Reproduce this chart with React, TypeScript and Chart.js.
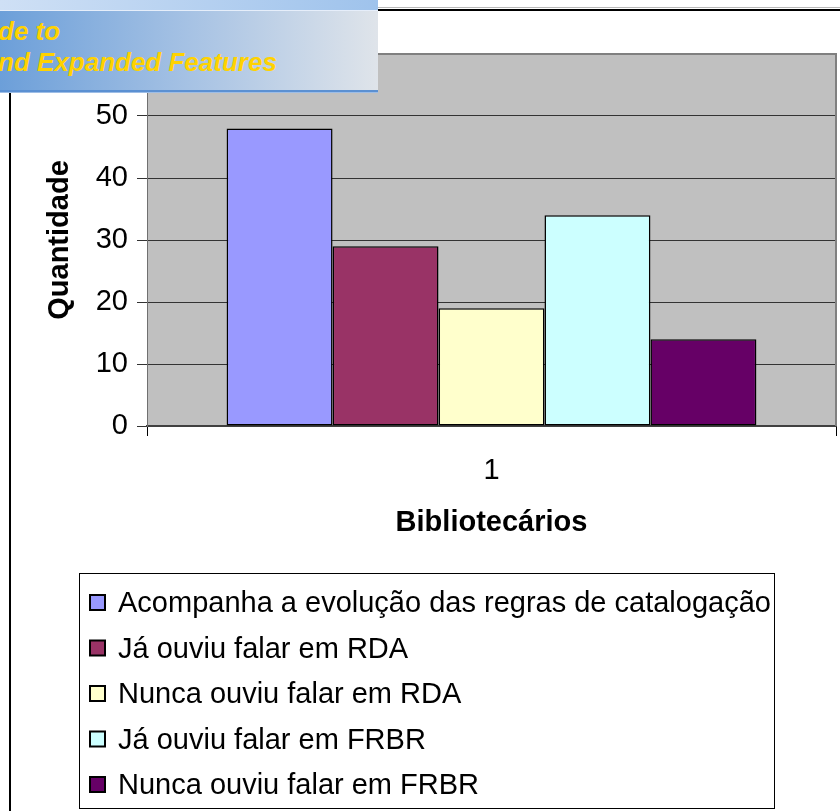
import React, { useEffect, useRef } from 'react';
import { Chart, registerables } from 'chart.js';

Chart.register(...registerables);

const categories = ['1'];
const seriesLabels = [
  'Acompanha a evolução das regras de catalogação',
  'Já ouviu falar em RDA',
  'Nunca ouviu falar em RDA',
  'Já ouviu falar em FRBR',
  'Nunca ouviu falar em FRBR',
];
const seriesValues = [[48], [29], [19], [34], [14]];
const seriesColors = ['#9999FF', '#993366', '#FFFFCC', '#CCFFFF', '#660066'];
const yTicks = [0, 10, 20, 30, 40, 50, 60];
const yTitle = 'Quantidade';
const xTitle = 'Bibliotecários';
const bannerLines = ['de to', 'nd Expanded Features'];

const FONT = "'Liberation Sans', Arial, Helvetica, sans-serif";
const FS = 29;

const framePlugin = {
  id: 'frame',
  beforeDraw(chart: any) {
    const { ctx, chartArea: a } = chart;
    ctx.save();
    ctx.fillStyle = '#ffffff';
    ctx.fillRect(0, 0, chart.width, chart.height);
    ctx.fillStyle = '#C0C0C0';
    ctx.fillRect(a.left, a.top, a.right - a.left, a.bottom - a.top);
    // decorative slide frame lines
    ctx.fillStyle = '#000';
    ctx.fillRect(9, 93, 2, chart.height - 93);
    ctx.fillRect(378, 9, chart.width - 378, 2);
    ctx.fillStyle = '#b8b8b8';
    ctx.fillRect(378, 7, chart.width - 378, 1);
    ctx.restore();
  },
  afterDraw(chart: any) {
    const { ctx, chartArea: a } = chart;
    ctx.save();
    ctx.strokeStyle = '#808080';
    ctx.lineWidth = 2;
    ctx.beginPath();
    ctx.moveTo(a.left, a.top);
    ctx.lineTo(a.right, a.top);
    ctx.lineTo(a.right, a.bottom);
    ctx.stroke();

    // legend box
    const datasets = chart.data.datasets;
    ctx.font = `${FS}px ${FONT}`;
    const textX = 118;
    const rowY0 = 603;
    const step = 45.5;
    const widths = datasets.map((d: any) => ctx.measureText(d.label).width);
    const boxL = 79.5;
    const boxT = 573.5;
    const boxR = Math.round(textX + Math.max(...widths) + 3) + 0.5;
    const boxB = 808.5;
    ctx.strokeStyle = '#000';
    ctx.lineWidth = 1;
    ctx.strokeRect(boxL, boxT, boxR - boxL, boxB - boxT);
    datasets.forEach((d: any, i: number) => {
      const cy = rowY0 + i * step;
      ctx.fillStyle = d.backgroundColor;
      ctx.fillRect(90, cy - 8, 15, 15);
      ctx.strokeStyle = '#000';
      ctx.lineWidth = 2;
      ctx.strokeRect(90, cy - 8, 15, 15);
      ctx.fillStyle = '#000';
      ctx.textAlign = 'left';
      ctx.textBaseline = 'middle';
      ctx.fillText(d.label, textX, cy + 1);
    });
    ctx.restore();
  },
};

export default function App() {
  const ref = useRef<HTMLCanvasElement | null>(null);

  useEffect(() => {
    if (!ref.current) return;
    const chart = new Chart(ref.current, {
      type: 'bar',
      data: {
        labels: categories,
        datasets: seriesLabels.map((label, i) => ({
          label,
          data: seriesValues[i],
          backgroundColor: seriesColors[i],
          borderColor: '#000000',
          borderWidth: 1.5,
          borderSkipped: false,
          categoryPercentage: 0.769,
          barPercentage: 1,
        })),
      },
      options: {
        responsive: false,
        animation: false,
        devicePixelRatio: 1,
        layout: { padding: { left: 0, top: 54, right: 4, bottom: 265 } },
        plugins: {
          legend: { display: false },
          tooltip: { enabled: false },
        },
        scales: {
          x: {
            grid: {
              display: true,
              drawOnChartArea: false,
              drawTicks: true,
              tickLength: 10,
              color: '#000',
              offset: true,
            },
            border: { display: true, color: '#404040', width: 2 },
            ticks: { font: { family: FONT, size: FS }, color: '#000', padding: 18 },
            title: {
              display: true,
              text: xTitle,
              font: { family: FONT, size: FS, weight: 'bold' },
              color: '#000',
              padding: { top: 0, bottom: 6 },
            },
            afterFit: (s: any) => {
              s.height = 120;
            },
          },
          y: {
            min: 0,
            max: 60,
            afterBuildTicks: (s: any) => {
              s.ticks = yTicks.map((v) => ({ value: v }));
            },
            ticks: { font: { family: FONT, size: FS }, color: '#000', padding: 9 },
            grid: { color: '#333333', lineWidth: 1, tickLength: 10 },
            border: { display: true, color: '#707070', width: 1 },
            title: {
              display: true,
              text: yTitle,
              font: { family: FONT, size: FS, weight: 'bold' },
              color: '#000',
              padding: { top: 43, bottom: 0 },
            },
            afterFit: (s: any) => {
              s.width = 147;
            },
          },
        },
      } as any,
      plugins: [framePlugin],
    });
    return () => chart.destroy();
  }, []);

  const strip = (top: number, height: number, background: string): React.CSSProperties => ({
    position: 'absolute',
    left: 0,
    top,
    width: '100%',
    height,
    background,
  });

  return (
    <div style={{ position: 'absolute', left: 0, top: 0, width: 840, height: 811, overflow: 'hidden', background: '#fff' }}>
      <canvas ref={ref} width={840} height={811} style={{ width: 840, height: 811, display: 'block' }} />
      <div style={{ position: 'absolute', left: 0, top: 0, width: 378, height: 93, overflow: 'hidden' }}>
        <div style={strip(0, 10, 'linear-gradient(to right, #cfe0f5, #9fc3ec)')} />
        <div style={strip(10, 1, '#e6eefa')} />
        <div style={strip(11, 79, 'linear-gradient(to right, #6c9fd9 0%, #a6c2e4 50%, #dfe4ea 100%)')} />
        <div style={strip(90, 2, '#5b90d2')} />
        <div style={strip(92, 1, '#9dbde6')} />
        {bannerLines.map((t, i) => (
          <div
            key={i}
            style={{
              position: 'absolute',
              left: -2,
              top: i === 0 ? 18 : 49,
              font: `italic bold 26px ${FONT}`,
              lineHeight: '26px',
              color: '#FFD200',
              whiteSpace: 'nowrap',
            }}
          >
            {t}
          </div>
        ))}
      </div>
    </div>
  );
}
